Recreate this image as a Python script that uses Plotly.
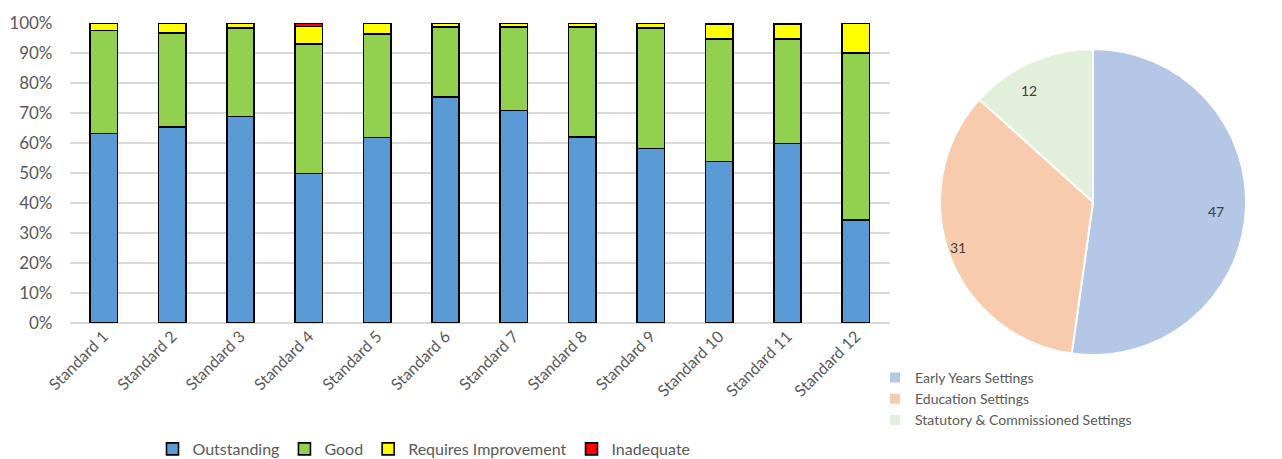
import math
import plotly.graph_objects as go

# ---------------- data ----------------
standards = ["Standard 1", "Standard 2", "Standard 3", "Standard 4", "Standard 5", "Standard 6",
             "Standard 7", "Standard 8", "Standard 9", "Standard 10", "Standard 11", "Standard 12"]
outstanding = [63.2, 65.3, 68.9, 49.8, 61.8, 75.3, 70.9, 62.1, 58.2, 53.9, 59.9, 34.3]
good = [34.3, 31.4, 29.4, 43.3, 34.5, 23.3, 27.7, 36.5, 40.1, 40.8, 34.8, 55.7]
requires_improvement = [2.5, 3.3, 1.7, 5.8, 3.7, 1.4, 1.4, 1.4, 1.7, 4.8, 5.0, 10.0]
inadequate = [0.0, 0.0, 0.0, 1.1, 0.0, 0.0, 0.0, 0.0, 0.0, 0.5, 0.3, 0.0]

settings = ["Early Years Settings", "Education Settings", "Statutory & Commissioned Settings"]
setting_counts = [47, 31, 12]

y_ticks = [0, 10, 20, 30, 40, 50, 60, 70, 80, 90, 100]
y_tick_labels = ["0%", "10%", "20%", "30%", "40%", "50%", "60%", "70%", "80%", "90%", "100%"]

# ---------------- styles ----------------
FONT = "Lato"
GREY = "#595959"
W, H = 1282, 459

series = [
    ("Outstanding", outstanding, "#5B9BD5"),
    ("Good", good, "#92D050"),
    ("Requires Improvement", requires_improvement, "#FFFF00"),
    ("Inadequate", inadequate, "#FF0000"),
]

fig = go.Figure()
for name, vals, col in series:
    fig.add_trace(go.Bar(
        x=standards, y=vals, name=name,
        marker=dict(color=col, line=dict(color="#000000", width=1.6)),
        legend="legend", hoverinfo="x+y+name",
    ))

# pie placement (pixels)
pie_left, pie_right, pie_top, pie_bottom = 940, 1246, 49, 355
fig.add_trace(go.Pie(
    labels=settings, values=setting_counts,
    sort=False, direction="clockwise", rotation=0,
    marker=dict(colors=["#B4C7E7", "#F8CBAD", "#E2EFDA"], line=dict(color="#FFFFFF", width=2)),
    textinfo="none", hoverinfo="label+value",
    domain=dict(x=[pie_left / W, pie_right / W], y=[1 - pie_bottom / H, 1 - pie_top / H]),
    legend="legend2", showlegend=True,
))

# data labels of the pie, placed near the outer edge of each slice (like Excel "best fit")
cx = (pie_left + pie_right) / 2
cy = (pie_top + pie_bottom) / 2
rad = (pie_right - pie_left) / 2
total = sum(setting_counts)
cum = 0
annotations = []
for v in setting_counts:
    mid = (cum + v / 2) / total * 2 * math.pi
    cum += v
    px = cx + 0.87 * rad * math.sin(mid)
    py = cy - 0.87 * rad * math.cos(mid)
    annotations.append(dict(x=px / W, y=1 - py / H, xref="paper", yref="paper",
                            text=str(v), showarrow=False,
                            font=dict(family=FONT, size=14, color="#404040")))

fig.update_layout(
    width=W, height=H,
    margin=dict(l=0, r=0, t=0, b=0, autoexpand=False),
    paper_bgcolor="white", plot_bgcolor="white",
    barmode="stack", bargap=0.6,
    font=dict(family=FONT, color=GREY),
    xaxis=dict(domain=[69.5 / W, 890 / W], tickangle=-45, automargin=False,
               tickfont=dict(family=FONT, size=16, color=GREY),
               showgrid=False, showline=False, ticks="", zeroline=False),
    yaxis=dict(domain=[1 - 323 / H, 1 - 23 / H], range=[0, 100], automargin=False,
               tickvals=y_ticks, ticktext=y_tick_labels,
               tickfont=dict(family=FONT, size=17, color=GREY),
               showgrid=True, gridcolor="#D9D9D9", gridwidth=1.5,
               zeroline=True, zerolinecolor="#D9D9D9", zerolinewidth=1.5,
               showline=False, ticks="", ticklabelstandoff=16),
    legend=dict(orientation="h", x=424 / W, xanchor="center", y=1 - 449 / H, yanchor="middle",
                font=dict(family=FONT, size=16, color=GREY), bgcolor="rgba(0,0,0,0)",
                itemwidth=30, traceorder="normal"),
    legend2=dict(orientation="v", x=875 / W, xanchor="left", y=1 - 362 / H, yanchor="top",
                 font=dict(family=FONT, size=14, color=GREY), bgcolor="rgba(0,0,0,0)",
                 itemwidth=30),
    annotations=annotations,
)

fig.write_html("out.html")
